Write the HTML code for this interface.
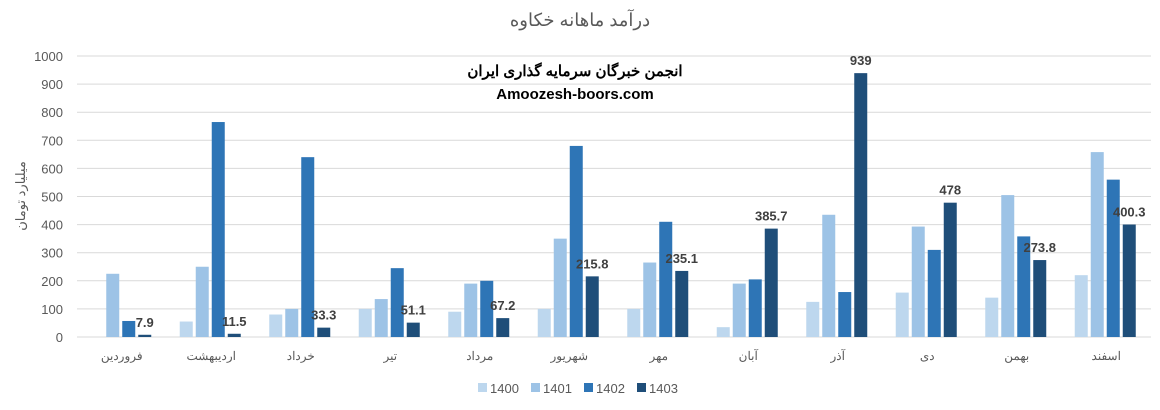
<!DOCTYPE html>
<html><head><meta charset="utf-8">
<style>
body{margin:0;background:#fff;}
svg{display:block;font-family:"Liberation Sans","Noto Sans CJK SC",sans-serif;}
</style></head>
<body>
<svg id="chart" width="1160" height="410" viewBox="0 0 1160 410">
<text x="580" y="26" text-anchor="middle" font-size="18" fill="#595959">درآمد ماهانه خکاوه</text>
<text x="575" y="76" text-anchor="middle" font-size="15" font-weight="bold" fill="#000">انجمن خبرگان سرمایه گذاری ایران</text>
<text x="575" y="99" text-anchor="middle" font-size="15" font-weight="bold" fill="#000">Amoozesh-boors.com</text>
<text transform="translate(25,196) rotate(-90)" text-anchor="middle" font-size="13" fill="#595959">میلیارد تومان</text>
<g id="grid"></g><g id="bars"></g><g id="labels"></g><g id="legend"></g>
</svg>
<script>
const categories=["فروردین","اردیبهشت","خرداد","تیر","مرداد","شهریور","مهر","آبان","آذر","دی","بهمن","اسفند"];
const seriesNames=["1400","1401","1402","1403"];
const s1400=[0,55,80,100,90,100,100,35,125,158,140,220];
const s1401=[225,250,100,135,190,350,265,190,435,393,505,658];
const s1402=[57,765,640,245,200,680,410,205,160,310,358,560];
const s1403=[7.9,11.5,33.3,51.1,67.2,215.8,235.1,385.7,939,478,273.8,400.3];
const yTicks=[0,100,200,300,400,500,600,700,800,900,1000];
const colors=["#bdd7ee","#9dc3e6","#2e75b6","#1f4e79"];
const NS="http://www.w3.org/2000/svg";
const x0=77,x1=1151,y0=337,yTop=56,yMax=1000;
const bw=(x1-x0)/categories.length;
const y=v=>y0-(v/yMax)*(y0-yTop);
const xc=i=>x0+bw*(i+0.5);
function mk(t,a,p){const e=document.createElementNS(NS,t);for(const k in a)e.setAttribute(k,a[k]);document.getElementById(p).appendChild(e);return e;}
yTicks.forEach(t=>{
 const l=mk("line",{x1:x0,x2:x1,y1:y(t),y2:y(t),stroke:"#d9d9d9","stroke-width":1},"grid");
 
 
 const tx=mk("text",{x:63,y:y(t)+5,"text-anchor":"end","font-size":13,fill:"#595959"},"grid");
 
 
 tx.textContent=t;
});
const series=[s1400,s1401,s1402,s1403];
categories.forEach((c,i)=>{
 series.forEach((s,k)=>{
  const bx=xc(i)-31.5+k*16;
  const r=mk("rect",{x:bx,y:y(s[i]),width:13,height:y0-y(s[i]),fill:colors[k]},"bars");
  
  
  if(k===3){
   const t=mk("text",{x:bx+6.5,y:y(s[i])-8,"text-anchor":"middle","font-size":13,"font-weight":"bold",fill:"#404040"},"labels");
   
   
   t.textContent=s[i];
  }
 });
 const ct=mk("text",{x:xc(i),y:360,"text-anchor":"middle","font-size":12,fill:"#595959"},"labels");
 
 
 ct.textContent=c;
});
seriesNames.forEach((n,k)=>{
 const lx=478+k*53;
 const r=mk("rect",{x:lx,y:383,width:9,height:9,fill:colors[k]},"legend");
 
 
 const t=mk("text",{x:lx+12,y:393,"font-size":13,fill:"#595959"},"legend");
 
 
 t.textContent=n;
});
</script>
</body></html>
